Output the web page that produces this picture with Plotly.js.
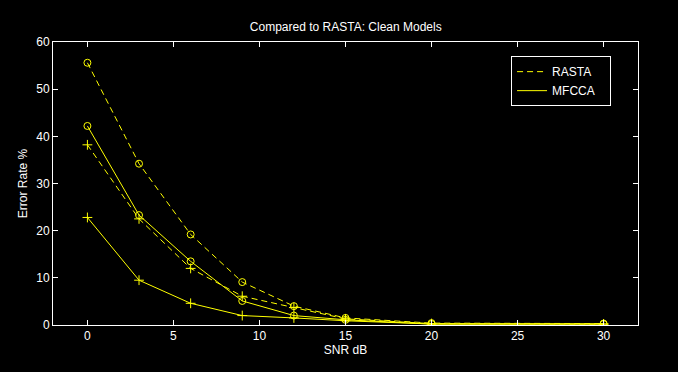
<!DOCTYPE html>
<html>
<head>
<meta charset="utf-8">
<script src="https://cdn.plot.ly/plotly-3.0.1.min.js"></script>
<style>html,body{margin:0;padding:0;background:#000;}#chart{width:678px;height:372px;}</style>
</head>
<body>
<div id="chart"></div>
<script>
const snr = [0, 3, 6, 9, 12, 15, 20, 30];
const rastaCircle = [55.6, 34.2, 19.2, 9.1, 4.0, 1.5, 0.4, 0.3];
const rastaPlus = [38.2, 22.5, 12.0, 6.1, 3.7, 1.3, 0.3, 0.2];
const mfccaCircle = [42.2, 23.3, 13.5, 5.1, 2.0, 1.1, 0.2, 0.2];
const mfccaPlus = [22.8, 9.5, 4.6, 2.0, 1.5, 0.9, 0.2, 0.2];
const xTicks = [0, 5, 10, 15, 20, 25, 30];
const yTicks = [0, 10, 20, 30, 40, 50, 60];

const yellow = '#ffff00';
function tr(y, dash, sym) {
  return {
    x: snr, y: y, type: 'scatter', mode: 'lines+markers', showlegend: false,
    line: {color: yellow, width: 1, dash: dash},
    marker: {symbol: sym, size: 7, color: yellow, line: {color: yellow, width: 1}}
  };
}
const data = [
  tr(rastaCircle, '6px,4px', 'circle-open'),
  tr(rastaPlus, '6px,4px', 'cross-thin-open'),
  tr(mfccaCircle, 'solid', 'circle-open'),
  tr(mfccaPlus, 'solid', 'cross-thin-open'),
  {x: [null], y: [null], type: 'scatter', mode: 'lines', name: 'RASTA\u00a0\u00a0\u00a0', line: {color: yellow, width: 1, dash: '6px,4px'}},
  {x: [null], y: [null], type: 'scatter', mode: 'lines', name: 'MFCCA\u00a0\u00a0\u00a0', line: {color: yellow, width: 1}}
];
const fontFam = 'Liberation Sans, Arial, sans-serif';
const axisBase = {
  showgrid: false, zeroline: false, showline: true, linecolor: '#fff', linewidth: 1,
  mirror: 'ticks', ticks: 'inside', ticklen: 5, tickcolor: '#fff',
  tickfont: {family: fontFam, size: 12, color: '#fff'}
};
const layout = {
  width: 678, height: 372,
  paper_bgcolor: '#000', plot_bgcolor: '#000',
  margin: {l: 53, r: 40, t: 42, b: 47},
  title: {text: 'Compared to RASTA: Clean Models', x: 0.51, xanchor: 'center', y: 0.928, yanchor: 'middle',
          font: {family: fontFam, size: 12, color: '#fff'}},
  xaxis: Object.assign({}, axisBase, {range: [-2, 32], tickvals: xTicks, ticktext: xTicks.map(String),
          title: {text: 'SNR dB', standoff: 2, font: {family: fontFam, size: 12, color: '#fff'}}}),
  yaxis: Object.assign({}, axisBase, {range: [0, 60], tickvals: yTicks, ticktext: yTicks.map(String),
          title: {text: 'Error Rate %', standoff: 6, font: {family: fontFam, size: 12, color: '#fff'}}}),
  legend: {x: 0.783, y: 0.95, xanchor: 'left', yanchor: 'top', bgcolor: '#000', bordercolor: '#fff', borderwidth: 1,
           font: {family: fontFam, size: 12, color: '#fff'}, itemwidth: 30, tracegroupgap: 0}
};
Plotly.newPlot('chart', data, layout, {displayModeBar: false, staticPlot: true});
</script>
</body>
</html>
